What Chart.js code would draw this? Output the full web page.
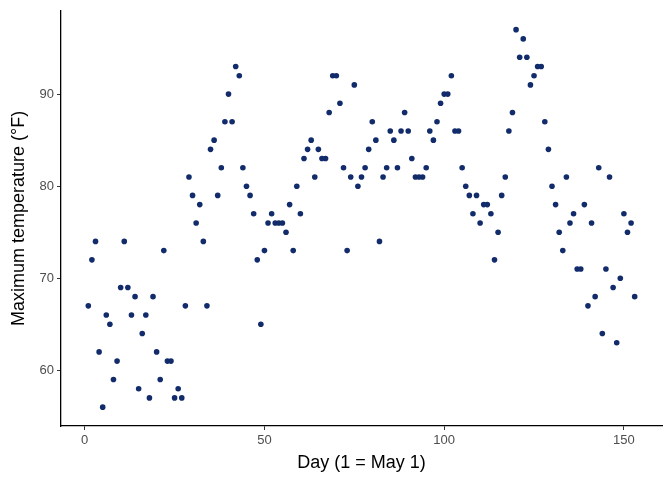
<!DOCTYPE html>
<html>
<head>
<meta charset="utf-8">
<script src="https://cdn.jsdelivr.net/npm/chart.js@4"></script>
<style>
  html, body { margin: 0; padding: 0; background: #fff; }
  #wrap { width: 672px; height: 480px; }
</style>
</head>
<body>
<div id="wrap"><canvas id="grafico" width="672" height="480"></canvas></div>
<script>
// airquality: max temperature per day, May 1 - Sep 30
const temps = [
  67, 72, 74, 62, 56, 66, 65, 59, 61, 69, 74, 69, 66, 68, 58, 64, 66, 57, 68, 62,
  59, 73, 61, 61, 57, 58, 57, 67, 81, 79, 76, 78, 74, 67, 84, 85, 79, 82, 87, 90,
  87, 93, 92, 82, 80, 79, 77, 72, 65, 73, 76, 77, 76, 76, 76, 75, 78, 73, 80, 77,
  83, 84, 85, 81, 84, 83, 83, 88, 92, 92, 89, 82, 73, 81, 91, 80, 81, 82, 84, 87,
  85, 74, 81, 82, 86, 85, 82, 86, 88, 86, 83, 81, 81, 81, 82, 86, 85, 87, 89, 90,
  90, 92, 86, 86, 82, 80, 79, 77, 79, 76, 78, 78, 77, 72, 75, 79, 81, 86, 88, 97,
  94, 96, 94, 91, 92, 93, 93, 87, 84, 80, 78, 75, 73, 81, 76, 77, 71, 71, 78, 67,
  76, 68, 82, 64, 71, 81, 69, 63, 70, 77, 75, 76, 68
];
const days = temps.map((t, i) => i + 1);
const xTicks = [0, 50, 100, 150];
const yTicks = [60, 70, 80, 90];

const pontos = days.map((d, i) => ({ x: d, y: temps[i] }));

const fonte = "'Liberation Sans', Arial, Helvetica, sans-serif";

function eixo(tickList, extra) {
    return Object.assign({
        type: "linear",
        afterBuildTicks: (scale) => {
            scale.ticks = tickList.map((v) => ({ value: v }));
        },
        grid: {
            display: true,
            drawOnChartArea: false,
            drawTicks: true,
            tickLength: 4,
            tickColor: "#333333",
            tickWidth: 1,
        },
        border: { display: true, color: "#000000", width: 1.3 },
        ticks: {
            color: "#4d4d4d",
            font: { family: fonte, size: 13 },
            padding: 3,
        },
    }, extra);
}

const ctx = document.getElementById("grafico").getContext("2d");
new Chart(ctx, {
    type: "scatter",
    data: {
        datasets: [
            {
                data: pontos,
                backgroundColor: "#112b6b",
                borderColor: "#112b6b",
                borderWidth: 0,
                pointRadius: 2.8,
            },
        ],
    },
    options: {
        responsive: false,
        animation: false,
        events: [],
        layout: { padding: { top: 9, right: 10, left: 0, bottom: 0 } },
        plugins: { legend: { display: false }, tooltip: { enabled: false } },
        scales: {
            x: eixo(xTicks, {
                min: -6.6,
                max: 160.6,
                title: {
                    display: true,
                    text: "Day (1 = May 1)",
                    color: "#000000",
                    font: { family: fonte, size: 18 },
                    padding: { top: 2, bottom: 6 },
                },
                afterFit: (scale) => { scale.height = 54; },
            }),
            y: eixo(yTicks, {
                min: 53.95,
                max: 99.05,
                title: {
                    display: true,
                    text: "Maximum temperature (°F)",
                    color: "#000000",
                    font: { family: fonte, size: 18 },
                    padding: { top: 8, bottom: 0 },
                },
                afterFit: (scale) => { scale.width = 61; },
            }),
        },
    },
});
</script>
</body>
</html>
